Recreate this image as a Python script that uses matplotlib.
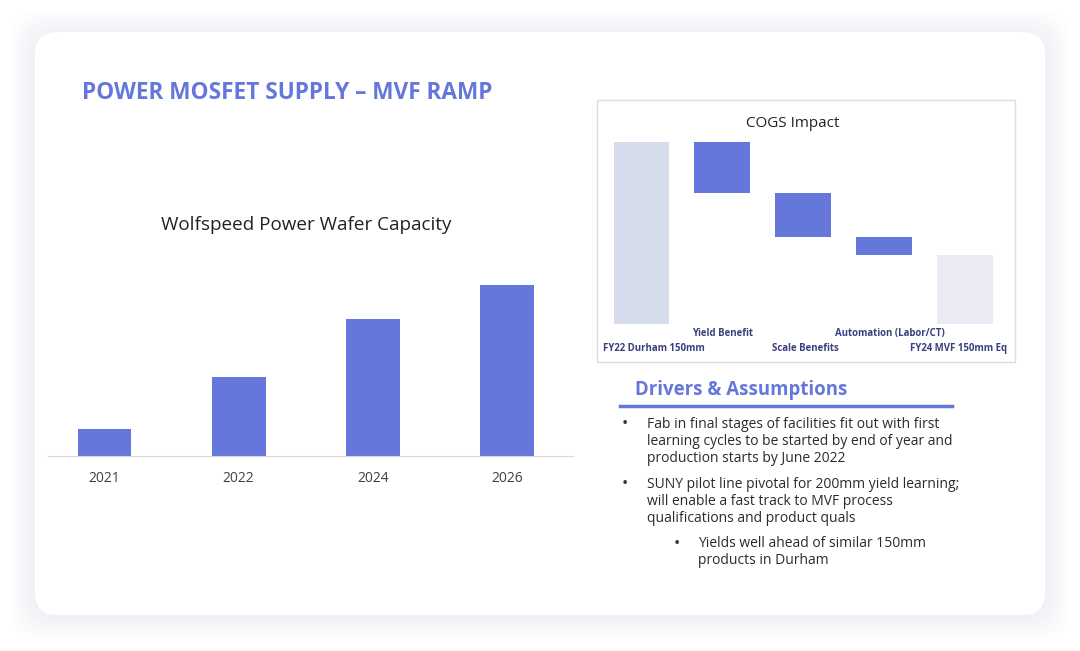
import matplotlib
matplotlib.use('Agg')
import matplotlib.pyplot as plt
from matplotlib.patches import FancyBboxPatch, Rectangle
from matplotlib.lines import Line2D
import numpy as np

plt.rcParams['font.family'] = ['Open Sans', 'DejaVu Sans']

# data
years = ['2021', '2022', '2024', '2026']
capacity = [0.8, 2.3, 4.0, 5.0]

cogs_labels = ['FY22 Durham 150mm', 'Yield Benefit', 'Scale Benefits',
               'Automation (Labor/CT)', 'FY24 MVF 150mm Eq']
cogs_start = 100
cogs_deltas = [-28, -24, -10]

drivers = [
    (0, ['Fab in final stages of facilities fit out with first',
         'learning cycles to be started by end of year and',
         'production starts by June 2022']),
    (0, ['SUNY pilot line pivotal for 200mm yield learning;',
         'will enable a fast track to MVF process',
         'qualifications and product quals']),
    (1, ['Yields well ahead of similar 150mm',
         'products in Durham']),
]

BLUE = '#6677db'
W, H = 1080, 651

fig = plt.figure(figsize=(W / 100, H / 100), dpi=100)
fig.patch.set_facecolor('white')

def fx(x):
    return x / W

def fy(y):
    return 1 - y / H

# card with soft shadow
for i, a in enumerate([0.025, 0.03, 0.035, 0.04, 0.05]):
    pad = (5 - i) * 5
    sh = FancyBboxPatch((fx(35 - pad), fy(615 + pad)), fx(1010 + 2 * pad), (580 + 2 * pad) / H,
                        boxstyle='round,pad=0,rounding_size=0.03', transform=fig.transFigure,
                        facecolor='#aeb3d6', edgecolor='none', alpha=a, mutation_aspect=W / H,
                        zorder=-20)
    fig.patches.append(sh)
card = FancyBboxPatch((fx(35), fy(615)), fx(1010), 583 / H,
                      boxstyle='round,pad=0,rounding_size=0.02', transform=fig.transFigure,
                      facecolor='white', edgecolor='none', mutation_aspect=W / H, zorder=-10)
fig.patches.append(card)

# main title
fig.text(fx(82), fy(93), 'POWER MOSFET SUPPLY – MVF RAMP', color=BLUE, fontsize=16.3,
         fontweight='bold', ha='left', va='center')

# left bar chart
ax = fig.add_axes([fx(48), fy(456), fx(525), 256 / H])
x = np.arange(len(years))
ax.bar(x, capacity, width=0.40, color=BLUE)
ax.set_xlim(-0.42, 3.49)
ax.set_ylim(0, 7.5)
ax.set_xticks(x)
ax.set_xticklabels(years, fontsize=10, color='#404040')
ax.tick_params(axis='x', length=0, pad=10.5)
ax.set_yticks([])
for s in ['top', 'right', 'left']:
    ax.spines[s].set_visible(False)
ax.spines['bottom'].set_color('#d9d9d9')
ax.patch.set_alpha(0)
fig.text(fx(306), fy(224.5), 'Wolfspeed Power Wafer Capacity', fontsize=13.6, color='#222222',
         ha='center', va='center')

# COGS panel
fig.patches.append(Rectangle((fx(597), fy(362)), fx(418), 262 / H, transform=fig.transFigure,
                             facecolor='none', edgecolor='#dcdcdc', lw=1, zorder=-5))
fig.text(fx(793), fy(123.5), 'COGS Impact', fontsize=11, color='#222222', ha='center', va='center')

ax2 = fig.add_axes([fx(600), fy(324), fx(410), 182 / H])
ax2.set_xlim(-0.513, 4.555)
ax2.set_ylim(0, 100)
ax2.axis('off')
ax2.patch.set_alpha(0)

level = cogs_start
ax2.bar(0, cogs_start, width=0.69, color='#d5ddec')
for i, d in enumerate(cogs_deltas):
    ax2.bar(i + 1, -d, bottom=level + d, width=0.69, color=BLUE)
    level += d
ax2.bar(4, level, width=0.69, color='#e9eaf3')

label_off = [(12, 1), (0, 0), (2, 1), (6, 0), (-7, 1)]
for i, lab in enumerate(cogs_labels):
    dx, row = label_off[i]
    dy = -24.5 if row > 0 else -9.5
    ax2.annotate(lab, (i, 0), xytext=(dx, dy), textcoords='offset pixels', ha='center', va='center',
                 fontsize=6.9, fontweight='bold', color='#3b3f7c', annotation_clip=False)

# drivers & assumptions
fig.text(fx(635), fy(389.5), 'Drivers & Assumptions', color=BLUE, fontsize=13.4, fontweight='bold',
         ha='left', va='center')
fig.lines.append(Line2D([fx(620), fx(952)], [fy(406), fy(406)], transform=fig.transFigure,
                        color=BLUE, lw=2.5))

y = 424.5
for level_i, lines in drivers:
    bx = 622 + level_i * 52
    tx = 647 + level_i * 51
    fig.text(fx(bx), fy(y), '•', fontsize=12, color='#333333', ha='left', va='center')
    for ln in lines:
        fig.text(fx(tx), fy(y), ln, fontsize=10, color='#2b2b2b', ha='left', va='center')
        y += 17.2
    y += 8

fig.savefig('out.png', dpi=100, facecolor=fig.get_facecolor())
